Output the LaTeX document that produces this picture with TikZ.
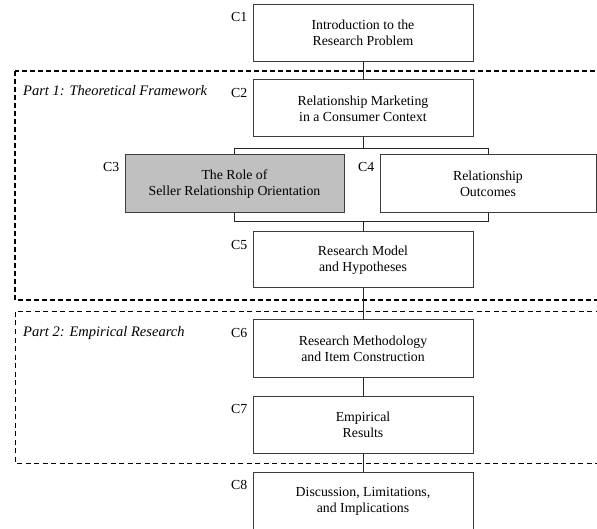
\documentclass[tikz,border=0pt]{standalone}
\usepackage{fontspec}
\setmainfont{Liberation Serif}
\usetikzlibrary{calc,positioning}
\definecolor{boxgrey}{RGB}{192,192,192}
\definecolor{edgegrey}{RGB}{60,60,60}

\begin{document}
\begin{tikzpicture}[x=1pt, y=-1pt,
    chap/.style={rectangle, draw=edgegrey, line width=1pt, fill=white,
                 minimum width=220pt, minimum height=57pt, align=center,
                 font=\fontsize{13.8}{16}\selectfont},
    chapgrey/.style={chap, fill=boxgrey},
    tag/.style={anchor=north east, inner sep=0pt, font=\fontsize{13.8}{16}\selectfont},
    partlab/.style={anchor=base west, inner sep=0pt, font=\fontsize{14.5}{16}\selectfont\itshape},
    link/.style={draw=black!85, line width=0.9pt},
    frameone/.style={draw=black, line width=1.4pt, dash pattern=on 5pt off 3pt},
    frametwo/.style={draw=black, line width=1pt, dash pattern=on 5pt off 3.5pt}
]
    \useasboundingbox (0,0) rectangle (597,529);

    % Dashed part frames
    \draw[frameone] (15,71) rectangle (620,300);
    \draw[frametwo] (15,312) rectangle (620,463);
    \node[partlab] (p1) at (23,96) {Part 1: Theoretical Framework};
    \node[partlab] (p2) at (23,336.5) {Part 2: Empirical Research};

    % Chapters
    \node[chap] (c1) at (363,33) {Introduction to the\\Research Problem};
    \node[chap] (c2) at (363,108.5) {Relationship Marketing\\in a Consumer Context};
    \node[chapgrey, minimum width=219pt, minimum height=58pt] (c3) at (234.5,184) {The Role of\\Seller Relationship Orientation};
    \node[chap, minimum width=216pt, minimum height=58pt] (c4) at (488,184) {Relationship\\Outcomes};
    \node[chap, minimum height=56pt] (c5) at (363,260) {Research Model\\and Hypotheses};
    \node[chap] (c6) at (363,348.5) {Research Methodology\\and Item Construction};
    \node[chap] (c7) at (363,424.5) {Empirical\\Results};
    \node[chap, minimum height=58pt] (c8) at (363,501) {Discussion, Limitations,\\and Implications};

    % Chapter numbers
    \node[tag] (t1) at ($(c1.north west)+(-5,8.5)$) {C1};
    \node[tag] (t2) at ($(c2.north west)+(-5,8.5)$) {C2};
    \node[tag] (t3) at ($(c3.north west)+(-5,8)$) {C3};
    \node[tag] (t4) at ($(c4.north west)+(-5,8)$) {C4};
    \node[tag] (t5) at ($(c5.north west)+(-5,8.5)$) {C5};
    \node[tag] (t6) at ($(c6.north west)+(-5,8.5)$) {C6};
    \node[tag] (t7) at ($(c7.north west)+(-5,8.5)$) {C7};
    \node[tag] (t8) at ($(c8.north west)+(-5,8.5)$) {C8};

    % Connectors
    \coordinate (split) at ($(c2.south)+(0,11)$);
    \coordinate (join) at ($(c5.north)+(0,-10)$);
    \draw[link] (c1) -- (c2);
    \draw[link] (c2) -- (split);
    \draw[link] (c3.north) |- (split) -| (c4.north);
    \draw[link] (c3.south) |- (join) -| (c4.south);
    \draw[link] (join) -- (c5);
    \draw[link] (c5) -- (c6);
    \draw[link] (c6) -- (c7);
    \draw[link] (c7) -- (c8);
\end{tikzpicture}
\end{document}
